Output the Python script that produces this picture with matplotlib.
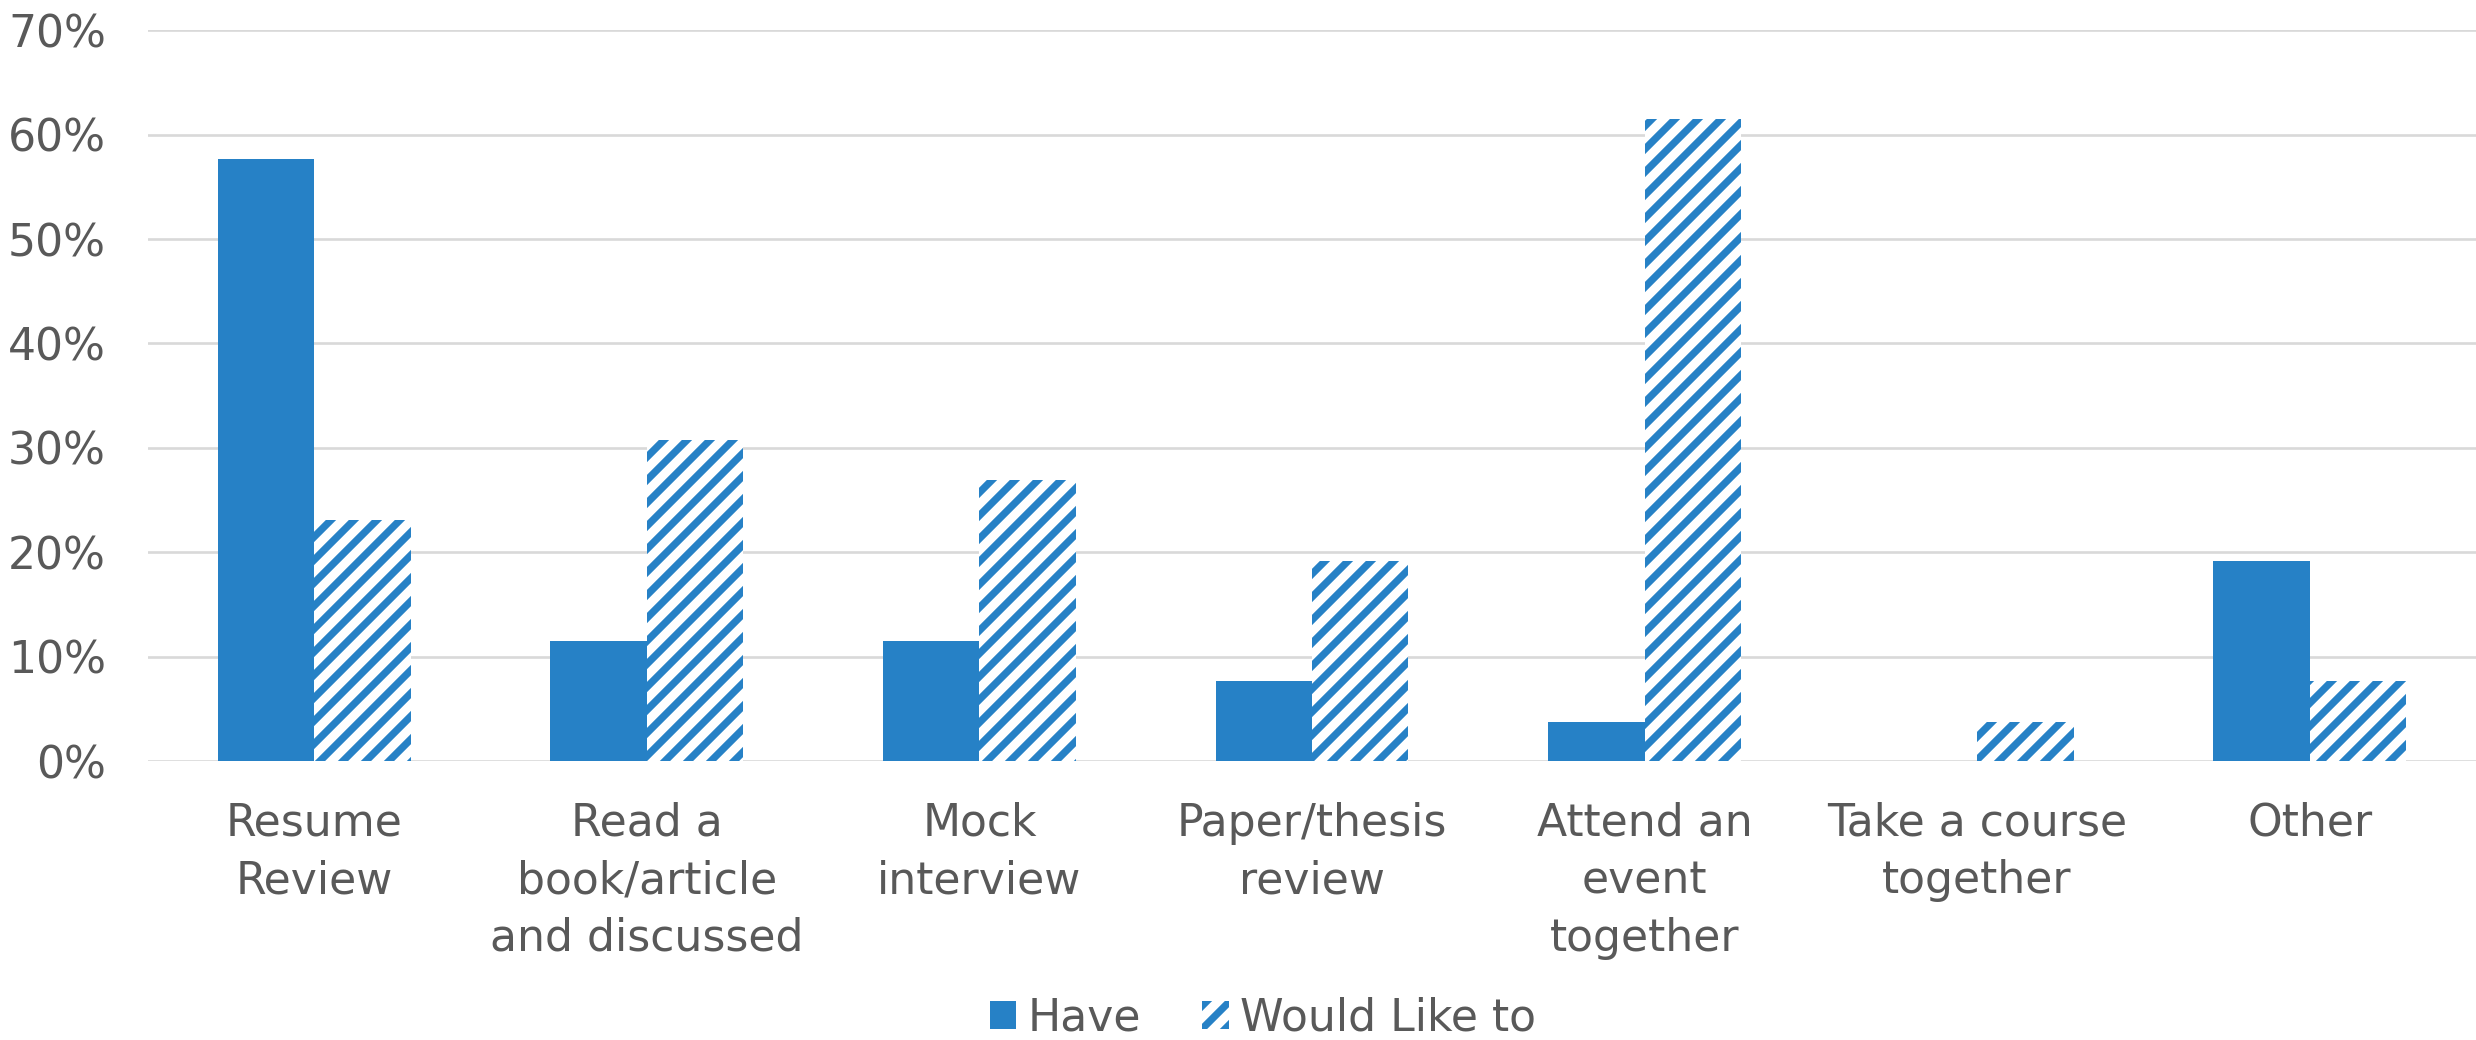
import numpy as np
import matplotlib
matplotlib.use("Agg")
import matplotlib.pyplot as plt
from matplotlib.ticker import PercentFormatter

# Survey answers (share of 26 respondents)
activities = [
    "Resume\nReview",
    "Read a\nbook/article\nand discussed",
    "Mock\ninterview",
    "Paper/thesis\nreview",
    "Attend an\nevent\ntogether",
    "Take a course\ntogether",
    "Other",
]
have = [57.7, 11.5, 11.5, 7.7, 3.8, 0.0, 19.2]
would_like = [23.1, 30.8, 26.9, 19.2, 61.5, 3.8, 7.7]
series_labels = ["Have", "Would Like to"]

BLUE = "#2681C6"
TEXT = "#595959"
GRID = "#D9D9D9"
DPI = 138

plt.rcParams.update({
    "font.family": ["DejaVu Sans"],
    "font.size": 23,
    "hatch.linewidth": 3.8,
    "text.color": TEXT,
    "xtick.color": TEXT,
    "ytick.color": TEXT,
})

fig = plt.figure(figsize=(2476 / DPI, 1040 / DPI), dpi=DPI)
ax = fig.add_axes([0.0598, 0.268, 0.9402, 0.703])

x = np.arange(len(activities))
w = 0.29

ax.bar(x - w / 2, have, w, color=BLUE, linewidth=0, label=series_labels[0], zorder=3)
ax.bar(x + w / 2, would_like, w, facecolor="white", edgecolor=BLUE, hatch="//",
       linewidth=0, label=series_labels[1], zorder=3)

ax.set_xlim(-0.5, len(activities) - 0.5)
ax.set_ylim(0, 70)
ax.set_yticks(np.arange(0, 71, 10))
ax.yaxis.set_major_formatter(PercentFormatter(decimals=0))
ax.set_xticks(x)
ax.set_xticklabels(activities, linespacing=1.43)

ax.grid(axis="y", color=GRID, linewidth=1.4, zorder=0)
ax.set_axisbelow(True)
for side in ["top", "right", "left", "bottom"]:
    ax.spines[side].set_visible(False)
ax.tick_params(axis="both", length=0)
ax.tick_params(axis="x", pad=21)
ax.tick_params(axis="y", pad=22)

fig.legend(loc="center", bbox_to_anchor=(0.51, 0.021), ncol=2, frameon=False,
           handlelength=0.6, handleheight=0.6, handletextpad=0.25, columnspacing=1.4,
           borderaxespad=0)

fig.savefig("out.png", dpi=DPI)
